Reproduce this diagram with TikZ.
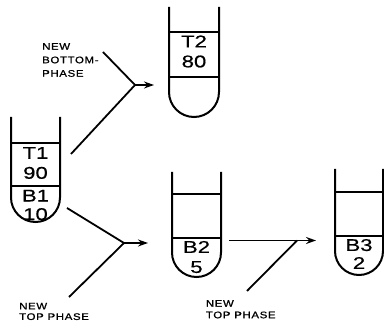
\documentclass[tikz,border=0pt]{standalone}
\usepackage{fontspec}
\setmainfont{Liberation Sans}
\usetikzlibrary{arrows.meta}

\begin{document}
\begin{tikzpicture}[x=1pt,y=1pt,
    tube/.style={line width=2pt},
    flow/.style={line width=1.8pt},
    tip/.style={-{Stealth[length=10pt,width=7pt]}},
    tubetxt/.style={inner sep=0pt,align=center,
        font=\fontsize{17}{20}\selectfont\addfontfeature{FakeStretch=1.3,FakeBold=0.6}},
    lbl/.style={inner sep=0pt,align=left,anchor=north west,
        font=\fontsize{9.5}{13.5}\selectfont\addfontfeature{FakeStretch=1.2,LetterSpace=7,FakeBold=1}}]
  \useasboundingbox (0,0) rectangle (384,327);
  % first tube
  \draw[tube] (11,210) -- (11,129.5) arc[start angle=180,end angle=360,radius=24.5pt] -- (60,210);
  \draw[tube] (11,184) -- (60,184);
  \draw[tube] (11,141) -- (60,141);
  \node[tubetxt] (t1) at (35.5,164) {T1\\90};
  \node[tubetxt] (b1) at (35.5,122) {B1\\[-1.5pt]10};
  % upper tube
  \draw[tube] (169,320) -- (169,235) arc[start angle=180,end angle=360,radius=25pt] -- (219,320);
  \draw[tube] (169,295) -- (219,295);
  \draw[tube] (169,250) -- (219,250);
  \node[tubetxt] (t2) at (194,275.5) {T2\\80};
  % lower tubes
  \draw[tube] (172,155) -- (172,74.5) arc[start angle=180,end angle=360,radius=24.5pt] -- (221,155);
  \draw[tube] (172,133) -- (221,133);
  \draw[tube] (172,89) -- (221,89);
  \node[tubetxt] (b2) at (196.5,70) {B2\\5};
  \draw[tube] (335,158) -- (335,76) arc[start angle=180,end angle=360,radius=24pt] -- (383,158);
  \draw[tube] (335,135) -- (383,135);
  \draw[tube] (335,91) -- (383,91);
  \node[tubetxt] (b3) at (359,73) {B3\\[-2pt]2};
  % labels
  \node[lbl] (nbot) at (42,284) {NEW\\BOTTOM-\\PHASE};
  \node[lbl] (ntop1) at (19,24.3) {NEW\\[-3pt]TOP PHASE};
  \node[lbl] (ntop2) at (205.7,27) {NEW\\[-2pt]TOP PHASE};
  % connectors
  \coordinate (s1) at (71,173);
  \coordinate (j1) at (135,242);
  \coordinate (n1) at (103,275);
  \coordinate (e1) at (154,242);
  \draw[flow] (s1) -- (j1) -- (n1);
  \draw[flow,tip] (j1) -- (e1);
  \coordinate (s2) at (67,119);
  \coordinate (j2) at (124,84);
  \coordinate (n2) at (69,30);
  \coordinate (e2) at (148,84);
  \draw[flow] (s2) -- (j2) -- (n2);
  \draw[flow,tip] (j2) -- (e2);
  \coordinate (s3) at (229,86.5);
  \coordinate (j3) at (297,86.5);
  \coordinate (n3) at (247,36);
  \coordinate (e3) at (316,86.5);
  \draw[flow,tip] (s3) -- (e3);
  \draw[flow] (n3) -- (j3);
\end{tikzpicture}
\end{document}
